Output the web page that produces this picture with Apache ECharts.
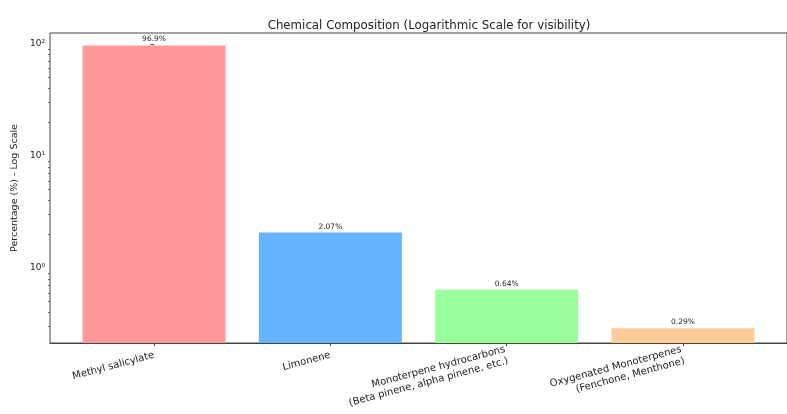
<!DOCTYPE html>
<html>
<head>
<meta charset="utf-8">
<script src="https://cdn.jsdelivr.net/npm/echarts@6/dist/echarts.min.js"></script>
<style>
  html, body { margin: 0; padding: 0; background: #fff; }
  #main { width: 787px; height: 414px; }
</style>
</head>
<body>
<div id="main"></div>
<script>
// chart data
var components = [
  'Methyl salicylate',
  'Limonene',
  'Monoterpene hydrocarbons\n(Beta pinene, alpha pinene, etc.)',
  'Oxygenated Monoterpenes\n(Fenchone, Menthone)'
];
var percentages = [96.9, 2.07, 0.64, 0.29];
var barColors = ['#ff9999', '#66b3ff', '#99ff99', '#ffcc99'];
var majorTicks = [1, 10, 100];
var minorTicks = [0.3, 0.4, 0.5, 0.6, 0.7, 0.8, 0.9, 2, 3, 4, 5, 6, 7, 8, 9, 20, 30, 40, 50, 60, 70, 80, 90];
var supers = {'-1': '⁻¹', '0': '⁰', '1': '¹', '2': '²'};

var chart = echarts.init(document.getElementById('main'));

var font = 'DejaVu Sans';
var yMin = 0.214, yMax = 125;

var option = {
  backgroundColor: '#fff',
  animation: false,
  textStyle: { fontFamily: font },
  title: {
    text: 'Chemical Composition (Logarithmic Scale for visibility)',
    left: 424,
    textAlign: 'center',
    top: 15,
    textStyle: { fontSize: 11.8, fontWeight: 'normal', color: '#222', fontFamily: font }
  },
  grid: {
    left: 50,
    top: 33,
    width: 747,
    height: 310,
    show: true,
    borderColor: '#444',
    borderWidth: 1
  },
  xAxis: {
    type: 'value',
    position: 'bottom',
    min: -0.59,
    max: 3.59,
    splitLine: { show: false },
    axisLine: { show: true, onZero: false, lineStyle: { color: '#444' } },
    axisTick: { show: true, length: 3, customValues: [0, 1, 2, 3], lineStyle: { color: '#444' } },
    axisLabel: {
      customValues: [0, 1, 2, 3],
      rotate: 15,
      fontSize: 10,
      color: '#222',
      margin: 12,
      lineHeight: 12,
      formatter: function (v) { return components[Math.round(v)]; }
    }
  },
  yAxis: [{
    type: 'log',
    logBase: 10,
    min: yMin,
    max: yMax,
    startValue: yMin,
    name: 'Percentage (%) - Log Scale',
    nameLocation: 'middle',
    nameGap: 28,
    nameTextStyle: { fontSize: 9.5, color: '#222' },
    splitLine: { show: false },
    axisLine: { show: false },
    axisTick: { show: true, length: 3.5, customValues: majorTicks, lineStyle: { color: '#444' } },
    axisLabel: {
      customValues: majorTicks,
      fontSize: 9,
      color: '#222',
      margin: 5,
      formatter: function (v) {
        var e = Math.round(Math.log10(v));
        return '10' + supers[String(e)];
      }
    }
  }, {
    type: 'log',
    logBase: 10,
    min: yMin,
    max: yMax,
    position: 'left',
    splitLine: { show: false },
    axisLine: { show: false },
    axisTick: { show: true, length: 2, customValues: minorTicks, lineStyle: { color: '#666' } },
    axisLabel: { show: false }
  }],
  series: [{
    type: 'bar',
    yAxisIndex: 0,
    barWidth: 143,
    data: percentages.map(function (v, i) {
      return { value: [i, v], itemStyle: { color: barColors[i] } };
    }),
    label: {
      show: true,
      position: 'top',
      distance: 2,
      fontSize: 7.5,
      color: '#222',
      formatter: function (p) { return p.value[1] + '%'; }
    }
  }]
};

chart.setOption(option);
</script>
</body>
</html>
